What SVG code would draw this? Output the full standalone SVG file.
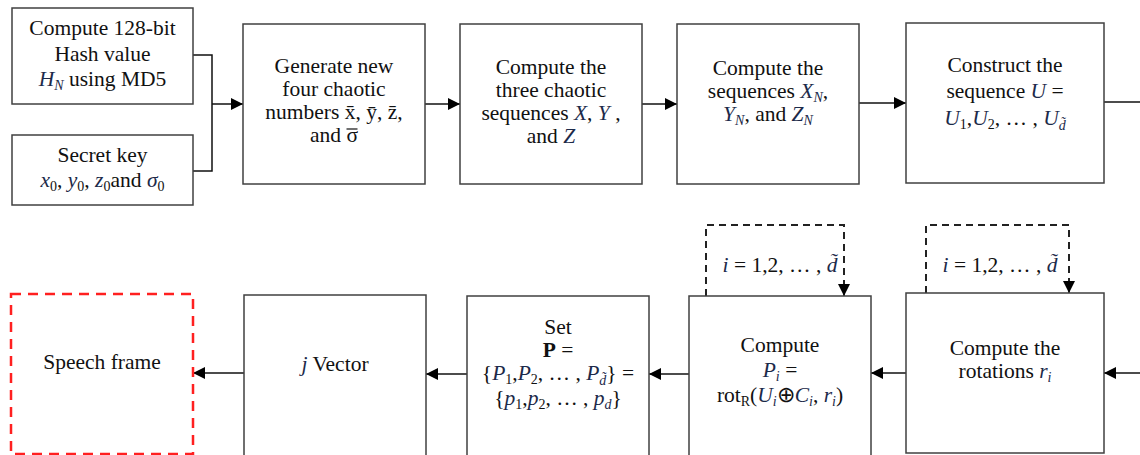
<svg xmlns="http://www.w3.org/2000/svg" width="1140" height="455" viewBox="0 0 1140 455">
<defs>
<style>
.box{fill:#fff;stroke:#404040;stroke-width:1.5}
.red{fill:#fff;stroke:#ff2020;stroke-width:2.5;stroke-dasharray:10,7}
.t{font-family:"Liberation Serif","Times New Roman",serif;font-size:21.5px;fill:#111;text-anchor:middle}
.m{font-style:italic;fill:#1c2a4a}
.s{font-size:14px}
.ln{fill:none;stroke:#111;stroke-width:1.5}
.bar{fill:none;stroke:#111;stroke-width:1.2}
.dl{fill:none;stroke:#222;stroke-width:2;stroke-dasharray:7,5}
</style>
<marker id="ahb" viewBox="0 0 10 10" refX="10" refY="5" markerWidth="12" markerHeight="12" markerUnits="userSpaceOnUse" orient="auto">
<path d="M0,0 L10,5 L0,10 z" fill="#000"/>
</marker>
</defs>

<g id="connectors">
<path class="ln" d="M193,55 H212 V171 H193"/>
<path class="ln" d="M212,104 H243" marker-end="url(#ahb)"/>
<path class="ln" d="M425,104 H460" marker-end="url(#ahb)"/>
<path class="ln" d="M642,104 H677" marker-end="url(#ahb)"/>
<path class="ln" d="M859,103 H906" marker-end="url(#ahb)"/>
<path class="ln" d="M1104,102 H1140"/>
<path class="ln" d="M1140,373 H1104" marker-end="url(#ahb)"/>
<path class="ln" d="M906,373 H871" marker-end="url(#ahb)"/>
<path class="ln" d="M689,374 H649" marker-end="url(#ahb)"/>
<path class="ln" d="M467,374 H426" marker-end="url(#ahb)"/>
<path class="ln" d="M244,373 H193" marker-end="url(#ahb)"/>
<path class="dl" d="M706,296 V225 H844 V284"/>
<path class="ln" d="M844,284 V296" marker-end="url(#ahb)"/>
<path class="dl" d="M926,293 V225 H1069 V281"/>
<path class="ln" d="M1069,281 V293" marker-end="url(#ahb)"/>
</g>

<g id="hash">
<rect class="box" x="12" y="8" width="181" height="96"/>
<text class="t" x="102.5" y="35">Compute 128-bit</text>
<text class="t" x="102.5" y="61">Hash value</text>
<text class="t" x="102.5" y="86"><tspan class="m">H</tspan><tspan class="m s" dy="4">N</tspan><tspan dy="-4"> using MD5</tspan></text>
</g>

<g id="key">
<rect class="box" x="12" y="135" width="181" height="70"/>
<text class="t" x="102.5" y="162">Secret key</text>
<text class="t" x="102.5" y="187"><tspan class="m">x</tspan><tspan class="s" dy="4">0</tspan><tspan dy="-4">, </tspan><tspan class="m">y</tspan><tspan class="s" dy="4">0</tspan><tspan dy="-4">, </tspan><tspan class="m">z</tspan><tspan class="s" dy="4">0</tspan><tspan dy="-4">and </tspan><tspan class="m">σ</tspan><tspan class="s" dy="4">0</tspan></text>
</g>

<g id="generate">
<rect class="box" x="243" y="24" width="182" height="160"/>
<text class="t" x="334" y="73">Generate new</text>
<text class="t" x="334" y="96">four chaotic</text>
<text class="t" x="334" y="119">numbers x̄, ȳ, z̄,</text>
<text class="t" x="334" y="142">and σ</text>
<line class="bar" x1="346.5" y1="129" x2="357.5" y2="129"/>
</g>

<g id="three">
<rect class="box" x="460" y="24" width="182" height="160"/>
<text class="t" x="551" y="74">Compute the</text>
<text class="t" x="551" y="97">three chaotic</text>
<text class="t" x="551" y="120">sequences <tspan class="m">X</tspan>, <tspan class="m">Y</tspan> ,</text>
<text class="t" x="551" y="143">and <tspan class="m">Z</tspan></text>
</g>

<g id="sequences">
<rect class="box" x="677" y="24" width="182" height="160"/>
<text class="t" x="768" y="75">Compute the</text>
<text class="t" x="768" y="98">sequences <tspan class="m">X</tspan><tspan class="m s" dy="4">N</tspan><tspan dy="-4">,</tspan></text>
<text class="t" x="768" y="121"><tspan class="m">Y</tspan><tspan class="m s" dy="4">N</tspan><tspan dy="-4">, and </tspan><tspan class="m">Z</tspan><tspan class="m s" dy="4">N</tspan></text>
</g>

<g id="construct">
<rect class="box" x="906" y="23" width="198" height="160"/>
<text class="t" x="1005" y="72">Construct the</text>
<text class="t" x="1005" y="98">sequence <tspan class="m">U</tspan> =</text>
<text class="t" x="1005" y="125"><tspan class="m">U</tspan><tspan class="s" dy="4">1</tspan><tspan dy="-4">,</tspan><tspan class="m">U</tspan><tspan class="s" dy="4">2</tspan><tspan dy="-4">, … , </tspan><tspan class="m">U</tspan><tspan class="m s" dy="5">d̃</tspan></text>
</g>

<g id="rotations">
<rect class="box" x="906" y="293" width="198" height="160"/>
<text class="t" x="1000" y="272"><tspan class="m">i</tspan> = 1,2, … , <tspan class="m">d̃</tspan></text>
<text class="t" x="1005" y="355">Compute the</text>
<text class="t" x="1005" y="378">rotations <tspan class="m">r</tspan><tspan class="m s" dy="4">i</tspan></text>
</g>

<g id="compute">
<rect class="box" x="689" y="296" width="182" height="162"/>
<text class="t" x="780" y="272"><tspan class="m">i</tspan> = 1,2, … , <tspan class="m">d̃</tspan></text>
<text class="t" x="780" y="352">Compute</text>
<text class="t" x="780" y="377"><tspan class="m">P</tspan><tspan class="m s" dy="4">i</tspan><tspan dy="-4"> =</tspan></text>
<text class="t" x="780" y="402">rot<tspan class="s" dy="4">R</tspan><tspan dy="-4">(</tspan><tspan class="m">U</tspan><tspan class="m s" dy="4">i</tspan><tspan dy="-4">⊕</tspan><tspan class="m">C</tspan><tspan class="m s" dy="4">i</tspan><tspan dy="-4">, </tspan><tspan class="m">r</tspan><tspan class="m s" dy="4">i</tspan><tspan dy="-4">)</tspan></text>
</g>

<g id="set">
<rect class="box" x="467" y="296" width="182" height="162"/>
<text class="t" x="558" y="334">Set</text>
<text class="t" x="558" y="357"><tspan font-weight="bold">P</tspan> =</text>
<text class="t" x="558" y="380">{<tspan class="m">P</tspan><tspan class="s" dy="4">1</tspan><tspan dy="-4">,</tspan><tspan class="m">P</tspan><tspan class="s" dy="4">2</tspan><tspan dy="-4">, … , </tspan><tspan class="m">P</tspan><tspan class="m s" dy="5">d̃</tspan><tspan dy="-5">} =</tspan></text>
<text class="t" x="558" y="405">{<tspan class="m">p</tspan><tspan class="s" dy="4">1</tspan><tspan dy="-4">,</tspan><tspan class="m">p</tspan><tspan class="s" dy="4">2</tspan><tspan dy="-4">, … , </tspan><tspan class="m">p</tspan><tspan class="m s" dy="4">d</tspan><tspan dy="-4">}</tspan></text>
</g>

<g id="vector">
<rect class="box" x="244" y="295" width="182" height="163"/>
<text class="t" x="335" y="371"><tspan class="m">j</tspan> Vector</text>
</g>

<g id="speech">
<rect class="red" x="11" y="294" width="182" height="160"/>
<text class="t" x="102" y="369">Speech frame</text>
</g>
</svg>
